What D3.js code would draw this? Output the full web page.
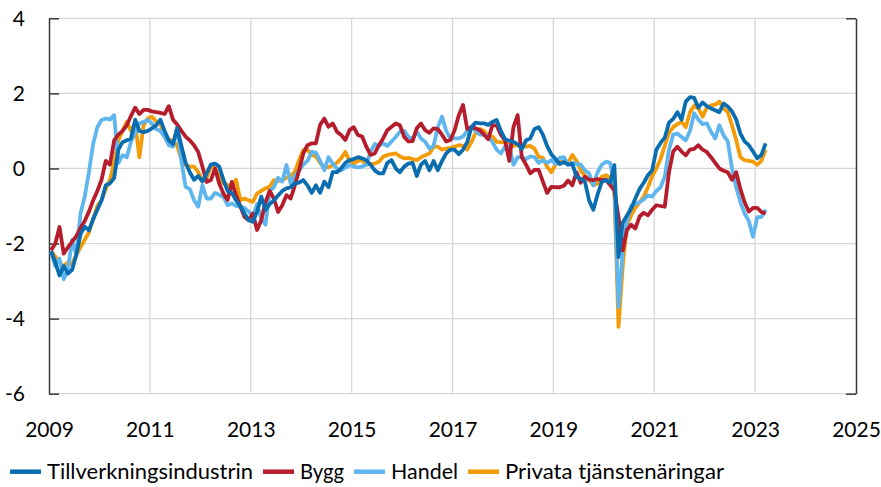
<!DOCTYPE html>
<html><head><meta charset="utf-8">
<script src="https://cdn.jsdelivr.net/npm/d3@7"></script>
<style>body{margin:0;background:#fff}svg{display:block}</style>
</head><body>
<svg id="c" width="881" height="487"></svg>
<script>
const seriesNames = ["Tillverkningsindustrin", "Bygg", "Handel", "Privata tjänstenäringar"];
const seriesColors = ["#0A6DB0", "#B51D2D", "#5FB5EE", "#F49B08"];
const yTicks = [4, 2, 0, -2, -4, -6];
const xTicks = [2009, 2011, 2013, 2015, 2017, 2019, 2021, 2023, 2025];
const startYear = 2009; // monthly data from Jan 2009

const tillverkning = [
-2.2,-2.5,-2.85,-2.6,-2.8,-2.7,-2.3,-1.75,-1.55,-1.65,
-1.35,-1.1,-0.85,-0.45,-0.4,-0.25,0.5,0.7,0.75,0.8,
1.3,1.0,0.97,1.0,1.07,1.15,1.3,1.0,0.75,0.65,
1.07,0.6,0.15,-0.1,-0.3,-0.2,-0.35,-0.13,0.1,0.13,
0.05,-0.3,-0.6,-0.65,-0.85,-1.0,-1.2,-1.38,-1.42,-1.15,
-0.75,-1.1,-0.95,-0.85,-0.72,-0.6,-0.53,-0.5,-0.4,-0.38,
-0.31,-0.45,-0.65,-0.45,-0.65,-0.35,-0.5,-0.1,-0.1,0.0,
0.15,0.22,0.25,0.3,0.27,0.22,0.1,-0.05,-0.13,-0.13,
0.15,0.22,0.0,-0.1,0.05,0.13,0.15,-0.2,0.1,0.2,
-0.05,0.2,-0.05,0.2,0.4,0.5,0.5,0.38,0.5,0.7,
1.1,1.22,1.2,1.2,1.16,1.24,1.29,1.0,0.78,0.74,
0.71,0.65,0.52,0.75,0.8,1.05,1.1,0.9,0.6,0.38,
0.25,0.12,0.17,0.1,0.12,-0.22,-0.28,-0.35,-0.85,-1.1,
-0.7,-0.36,-0.31,-0.38,0.09,-2.36,-1.45,-1.25,-1.07,-0.8,
-0.55,-0.38,-0.18,-0.05,0.5,0.68,0.82,1.22,1.32,1.5,
1.3,1.78,1.9,1.88,1.62,1.76,1.66,1.6,1.55,1.5,
1.73,1.65,1.52,1.3,0.93,0.72,0.62,0.45,0.27,0.36,
0.67];

const bygg = [
-2.18,-2.0,-1.56,-2.27,-2.1,-1.95,-1.8,-1.58,-1.4,-1.15,
-0.85,-0.6,-0.3,0.2,0.1,0.75,0.9,1.0,1.15,1.4,
1.62,1.45,1.56,1.56,1.52,1.5,1.48,1.45,1.66,1.3,
1.17,1.0,0.85,0.75,0.62,0.44,0.05,-0.36,-0.31,0.0,
-0.4,-0.67,-0.84,-0.36,-0.71,-1.0,-1.29,-1.38,-1.2,-1.64,
-1.38,-0.9,-0.6,-0.8,-1.16,-0.98,-0.71,-0.8,-0.45,-0.05,
0.4,0.62,0.67,0.67,1.16,1.33,1.11,1.2,0.98,0.89,
0.76,1.02,1.1,0.89,0.85,0.58,0.36,0.4,0.62,0.8,
1.02,1.11,1.2,1.15,0.84,0.72,0.73,1.07,1.2,1.02,
0.95,1.07,1.05,0.9,0.72,0.76,1.02,1.42,1.69,1.05,
1.1,1.07,1.02,0.9,0.78,1.15,1.15,0.9,0.75,0.2,
1.1,1.42,0.3,0.1,-0.13,-0.04,-0.04,-0.35,-0.65,-0.49,
-0.5,-0.5,-0.46,-0.32,-0.45,-0.1,-0.38,-0.22,-0.3,-0.31,
-0.28,-0.31,-0.3,-0.44,-0.58,-1.3,-2.18,-1.64,-1.5,-1.6,
-1.28,-1.18,-1.25,-1.1,-0.98,-1.0,-1.02,-0.1,0.45,0.58,
0.45,0.35,0.5,0.52,0.62,0.5,0.44,0.3,0.15,0.0,
-0.06,-0.1,-0.3,-0.1,-0.55,-0.9,-1.15,-1.05,-1.05,-1.16,
-1.2];

const handel = [
-2.22,-2.6,-2.4,-2.95,-2.7,-1.9,-2.3,-1.2,-0.75,-0.1,
0.65,1.1,1.29,1.33,1.3,1.42,0.15,0.35,0.3,0.71,
0.95,1.2,1.24,1.29,1.2,1.05,1.0,0.84,0.62,0.58,
1.11,0.2,-0.49,-0.55,-0.84,-1.02,-0.45,-0.8,-0.8,-0.65,
-0.7,-0.76,-0.98,-0.93,-1.0,-1.02,-1.05,-1.15,-1.29,-0.95,
-1.33,-1.5,-0.6,-0.5,-0.25,-0.35,0.09,-0.4,-0.2,-0.05,
0.1,0.2,0.44,0.42,0.2,-0.05,0.3,0.13,0.0,-0.05,
0.02,0.09,0.05,0.03,0.05,0.1,0.45,0.65,0.6,0.67,
0.6,0.72,0.84,0.98,1.0,0.84,0.8,0.98,0.8,0.71,
0.53,0.6,1.1,1.38,1.0,0.8,0.8,0.8,0.85,1.0,
1.11,1.0,0.9,0.9,0.85,0.7,0.5,0.4,0.58,0.6,
0.1,0.3,0.3,0.25,0.32,0.3,0.15,0.22,0.15,0.22,
0.12,0.28,0.3,0.1,0.15,0.12,0.1,-0.05,-0.13,-0.45,
-0.1,0.1,0.18,0.15,-0.4,-3.69,-2.2,-1.4,-1.0,-0.95,
-0.9,-0.82,-0.72,-0.75,-0.6,-0.5,-0.22,0.5,0.9,0.93,
0.84,0.75,1.0,1.47,1.3,1.18,1.2,0.98,0.8,1.15,
0.88,0.72,0.0,-0.5,-0.9,-1.2,-1.4,-1.82,-1.3,-1.29,
-1.1];

const privata = [
-2.2,-2.35,-2.5,-2.6,-2.5,-2.55,-2.3,-2.1,-1.9,-1.7,
-1.35,-1.0,-0.85,-0.55,-0.3,0.15,0.75,1.0,1.24,1.0,
1.2,0.3,1.15,1.33,1.38,1.25,1.2,0.85,0.76,0.75,
0.6,0.25,0.09,0.05,0.05,-0.1,-0.31,-0.25,0.05,0.0,
-0.2,-0.4,-0.44,-0.49,-0.3,-0.84,-0.8,-0.85,-0.89,-0.67,
-0.6,-0.53,-0.49,-0.31,-0.33,-0.31,-0.25,-0.2,-0.09,0.22,
0.49,0.5,0.36,0.32,0.15,0.04,0.03,0.09,0.15,0.27,
0.44,0.2,0.13,0.2,0.22,0.1,0.12,0.13,0.18,0.31,
0.36,0.38,0.4,0.32,0.27,0.28,0.25,0.22,0.3,0.35,
0.4,0.58,0.58,0.5,0.53,0.55,0.58,0.62,0.6,0.5,
0.7,0.95,1.05,1.0,0.84,0.85,0.71,0.7,0.69,0.63,
0.6,0.62,0.6,0.58,0.6,0.53,0.31,0.28,0.05,-0.1,
0.1,0.18,0.16,0.15,0.36,0.2,-0.05,-0.2,-0.3,-0.45,
-0.4,-0.22,-0.18,-0.25,-0.58,-4.22,-2.6,-1.5,-1.25,-1.05,
-0.9,-0.75,-0.5,-0.2,0.0,0.25,0.6,0.95,1.1,1.18,
1.24,1.1,1.5,1.67,1.6,1.38,1.62,1.68,1.7,1.78,
1.6,1.5,1.15,0.75,0.3,0.22,0.2,0.18,0.1,0.2,
0.5];

const seriesData = [tillverkning, bygg, handel, privata];

const FONT = "Lato, 'Open Sans', sans-serif";
const svg = d3.select("#c");
const L = 49, R = 856, T = 18.3, B = 393.7;
const x = d3.scaleLinear().domain([2009, 2025]).range([L, R]);
const y = d3.scaleLinear().domain([-6, 4]).range([B, T]);

// gridlines
const grid = svg.append("g");
grid.selectAll("line.h").data(yTicks).enter().append("line")
  .attr("x1", L).attr("x2", R).attr("y1", d => y(d)).attr("y2", d => y(d))
  .attr("stroke", "#d6d6d6").attr("stroke-width", 1.3);
grid.selectAll("line.v").data(xTicks.filter(d => d > 2009 && d < 2025)).enter().append("line")
  .attr("x1", d => x(d)).attr("x2", d => x(d)).attr("y1", T).attr("y2", B)
  .attr("stroke", "#d6d6d6").attr("stroke-width", 1.3);

// left axis
const yAxis = d3.axisLeft(y).tickValues(yTicks).tickSizeInner(-10).tickSizeOuter(0).tickPadding(24)
  .tickFormat(d => d);
const gy = svg.append("g").attr("transform", `translate(${L},0)`).call(yAxis);
gy.select(".domain").attr("stroke", "#3a3a3a").attr("stroke-width", 1.5);
gy.selectAll(".tick line").attr("stroke", "#3a3a3a").attr("stroke-width", 1.5);
gy.selectAll(".tick text").attr("font-family", FONT).attr("font-size", 21).attr("fill", "#000");

// right axis
const yAxisR = d3.axisRight(y).tickValues([4, -6]).tickSizeInner(-10).tickSizeOuter(0).tickFormat("");
const gyr = svg.append("g").attr("transform", `translate(${R},0)`).call(yAxisR);
gyr.select(".domain").attr("stroke", "#3a3a3a").attr("stroke-width", 1.5);
gyr.selectAll(".tick line").attr("stroke", "#3a3a3a").attr("stroke-width", 1.5);

// bottom axis labels
const xAxis = d3.axisBottom(x).tickValues(xTicks).tickSize(0).tickPadding(28.5).tickFormat(d => d);
const gx = svg.append("g").attr("transform", `translate(0,${B})`).call(xAxis);
gx.select(".domain").remove();
gx.selectAll(".tick text").attr("font-family", FONT).attr("font-size", 21).attr("fill", "#000");

// lines
const line = d3.line()
  .x((d, i) => x(startYear + (i + 0.5) / 12))
  .y(d => y(d))
  .curve(d3.curveLinear);
const drawOrder = [3, 2, 1, 0];
const gl = svg.append("g");
drawOrder.forEach(s => {
  gl.append("path").datum(seriesData[s])
    .attr("d", line).attr("fill", "none")
    .attr("stroke", seriesColors[s]).attr("stroke-width", 3.8)
    .attr("stroke-linejoin", "round");
});

// legend
const legendWidths = [206, 44, 67, 219];
const lg = svg.append("g");
let lx = 10;
seriesNames.forEach((n, i) => {
  lg.append("line").attr("x1", lx).attr("x2", lx + 31).attr("y1", 471.7).attr("y2", 471.7)
    .attr("stroke", seriesColors[i]).attr("stroke-width", 4.5);
  lx += 37;
  lg.append("text").attr("x", lx).attr("y", 478.5).text(n)
    .attr("font-family", FONT).attr("font-size", 21).attr("fill", "#000")
    .attr("textLength", legendWidths[i]).attr("lengthAdjust", "spacingAndGlyphs");
  lx += legendWidths[i] + 10;
});
</script>
</body></html>
